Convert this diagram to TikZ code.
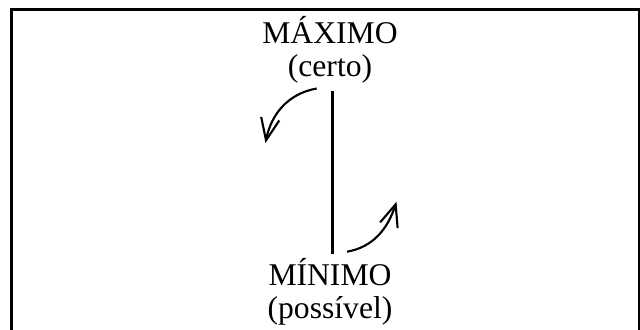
\documentclass[tikz,border=0pt]{standalone}
\usepackage{fontspec}
\setmainfont{Liberation Serif}
\usetikzlibrary{arrows.meta, positioning}

\begin{document}
\begin{tikzpicture}[>={Straight Barb[length=5.5mm, width=4.6mm]},
    label/.style={align=center, inner sep=0pt, outer sep=0pt,
                  font=\fontsize{22.5pt}{23.5pt}\selectfont},
    stem/.style={line width=1.9pt},
    turn/.style={->, line width=1.5pt},
    frame/.style={line width=1.9pt},
    node distance=0pt
  ]
  \useasboundingbox (0,0) rectangle (16,8.225);

  % outer frame
  \draw[frame] (0.2825,-0.2) -- (0.2825,7.9825) -- (15.975,7.9825) -- (15.975,-0.2);

  \node[label, anchor=base] (maxi) at (8.25,6.3) {MÁXIMO\\(certo)};
  \node[label, below=4.36cm of maxi] (mini) {MÍNIMO\\(possível)};

  % scale between the two ends
  \draw[stem, shorten <=0.18cm, shorten >=0.1cm] ([xshift=0.06cm]maxi.south) -- ([xshift=0.06cm]mini.north);

  % turning arrows
  \coordinate (downA) at (7.9175,6.0125);
  \coordinate (downB) at (6.6375,4.65);
  \coordinate (upA)   at (8.675,1.9325);
  \coordinate (upB)   at (9.9125,3.1825);
  \draw[turn] (downA) to[out=190, in=79] (downB);
  \draw[turn] (upA) to[out=10, in=252] (upB);
\end{tikzpicture}
\end{document}
